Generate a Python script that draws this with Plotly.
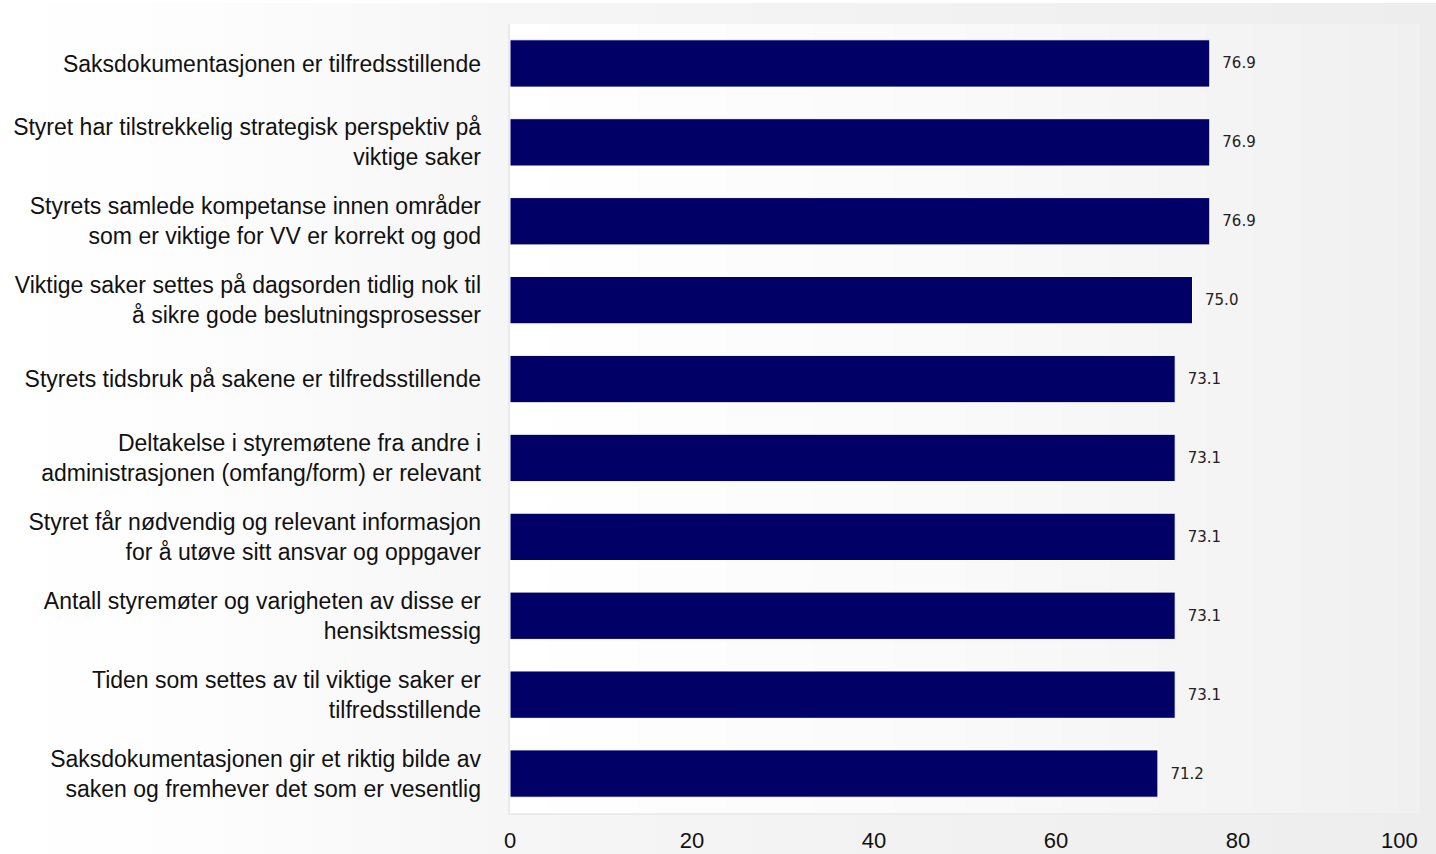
import numpy as np
import plotly.graph_objects as go

categories = [
    "Saksdokumentasjonen er tilfredsstillende",
    "Styret har tilstrekkelig strategisk perspektiv på<br>viktige saker",
    "Styrets samlede kompetanse innen områder<br>som er viktige for VV er korrekt og god",
    "Viktige saker settes på dagsorden tidlig nok til<br>å sikre gode beslutningsprosesser",
    "Styrets tidsbruk på sakene er tilfredsstillende",
    "Deltakelse i styremøtene fra andre i<br>administrasjonen (omfang/form) er relevant",
    "Styret får nødvendig og relevant informasjon<br>for å utøve sitt ansvar og oppgaver",
    "Antall styremøter og varigheten av disse er<br>hensiktsmessig",
    "Tiden som settes av til viktige saker er<br>tilfredsstillende",
    "Saksdokumentasjonen gir et riktig bilde av<br>saken og fremhever det som er vesentlig",
]
values = [76.9, 76.9, 76.9, 75.0, 73.1, 73.1, 73.1, 73.1, 73.1, 71.2]
x_ticks = [0, 20, 40, 60, 80, 100]

W, H = 1436, 854
ML, MR, MT, MB = 510, 16, 24, 41
PW = W - ML - MR
PH = H - MT - MB
FONT = "Liberation Sans, Arial, sans-serif"


def px2x(px):
    return (px - ML) / PW


def py2y(py):
    return (H - MB - py) / PH


shapes = []
# outer background gradient
outer_stops_x = [0, 200, 510, 1000, 1436]
outer_stops_c = [255, 253, 246, 241, 237]
step = 8
for x0 in range(0, W, step):
    c = int(round(np.interp(x0 + step / 2, outer_stops_x, outer_stops_c)))
    shapes.append(dict(type="rect", xref="paper", yref="paper",
                       x0=px2x(x0), x1=px2x(x0 + step + 1), y0=py2y(H + 2), y1=py2y(3),
                       fillcolor=f"rgb({c},{c},{c})", line=dict(width=0), layer="below"))
# plot area soft shadow (left and bottom edges)
shapes.append(dict(type="rect", xref="paper", yref="paper",
                   x0=px2x(ML - 2), x1=px2x(ML), y0=py2y(H - MB + 2), y1=1,
                   fillcolor="rgb(234,234,234)", line=dict(width=0), layer="below"))
shapes.append(dict(type="rect", xref="paper", yref="paper",
                   x0=px2x(ML - 2), x1=px2x(W - MR - 40), y0=py2y(H - MB + 2), y1=0,
                   fillcolor="rgb(236,236,236)", line=dict(width=0), layer="below"))
# inner plot-area gradient
inner_stops_x = [ML, 940, W - MR]
inner_stops_c = [255, 250, 240]
for x0 in range(ML, W - MR, step):
    x1 = min(x0 + step + 1, W - MR)
    c = int(round(np.interp(x0 + step / 2, inner_stops_x, inner_stops_c)))
    shapes.append(dict(type="rect", xref="paper", yref="paper",
                       x0=px2x(x0), x1=px2x(x1), y0=0, y1=1,
                       fillcolor=f"rgb({c},{c},{c})", line=dict(width=0), layer="below"))

fig = go.Figure()
fig.add_trace(go.Bar(
    x=values, y=categories, orientation="h",
    marker=dict(color="#000066", line=dict(color="white", width=1)),
    texttemplate="\u00a0\u00a0%{x:.1f}", textposition="outside",
    textfont=dict(family="DejaVu Sans", size=15, color="#222222"),
    cliponaxis=False, hoverinfo="skip",
))

fig.update_layout(
    width=W, height=H,
    margin=dict(l=ML, r=MR, t=MT, b=MB, pad=0, autoexpand=False),
    paper_bgcolor="white", plot_bgcolor="rgba(0,0,0,0)",
    bargap=0.4, showlegend=False,
    shapes=shapes,
    font=dict(family=FONT, size=23, color="#111111"),
    annotations=[dict(text=str(x_ticks[-1]), x=x_ticks[-1], xref="x", xanchor="right",
                      y=py2y(826), yref="paper", yanchor="top", showarrow=False,
                      font=dict(family=FONT, size=22, color="#111111"))],
)
fig.update_xaxes(range=[0, 100], tickvals=x_ticks[:-1], ticktext=[str(t) for t in x_ticks[:-1]],
                 showgrid=False, zeroline=False, showline=False, ticks="", automargin=False,
                 ticklabelstandoff=12, tickfont=dict(family=FONT, size=22, color="#111111"))
fig.update_yaxes(autorange="reversed", showgrid=False, zeroline=False, showline=False,
                 ticks="", automargin=False,
                 ticklabelstandoff=28, tickfont=dict(family=FONT, size=23, color="#111111"))

fig.write_html("out.html")
